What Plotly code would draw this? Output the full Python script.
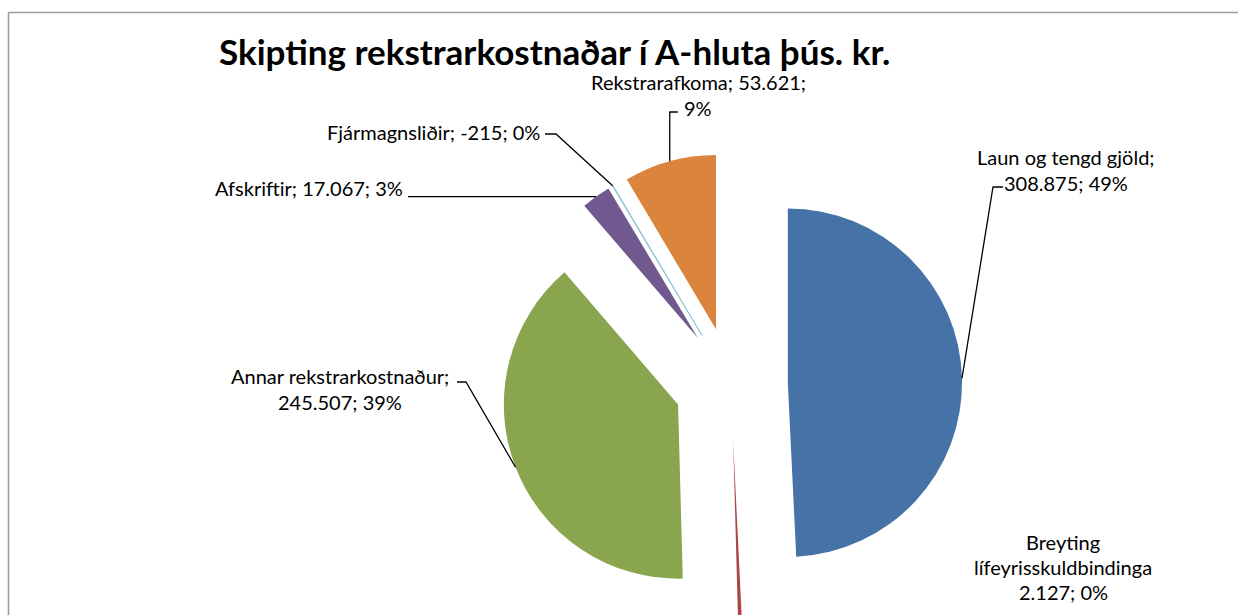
import math
import plotly.graph_objects as go

# ---------------- data ----------------
labels = ["Laun og tengd gjöld", "Breyting lífeyrisskuldbindinga", "Annar rekstrarkostnaður",
          "Afskriftir", "Fjármagnsliðir", "Rekstrarafkoma"]
values = [308875, 2127, 245507, 17067, -215, 53621]
colors = ["#4572A7", "#AA4643", "#89A54E", "#71588F", "#8FC3D6", "#DB843D"]
title_text = "Skipting rekstrarkostnaðar í A-hluta þús. kr."

# ---------------- layout constants ----------------
W, H = 1238, 615
PULL = 0.326
DOM_X = [0.3482, 0.8328]
DOM_Y = [0.0, 0.7512]
FONT = "Lato"
LABEL_SIZE = 20
TITLE_SIZE = 35

abs_vals = [abs(v) for v in values]
total = sum(abs_vals)
pcts = [round(100 * v / total) for v in abs_vals]


def fmt(v):
    s = f"{abs(v):,}".replace(",", ".")
    return ("-" if v < 0 else "") + s


# pie geometry (mirrors plotly's own pie scaling)
box_w = W * (DOM_X[1] - DOM_X[0])
box_h = H * (DOM_Y[1] - DOM_Y[0])
R = min(box_w, box_h) / 2 / (1 + PULL)
CX = W * (DOM_X[0] + DOM_X[1]) / 2
CY = H * (1 - DOM_Y[0]) - box_h / 2

starts, mids = [], []
acc = 0.0
for v in abs_vals:
    a0 = 360 * acc / total
    a1 = 360 * (acc + v) / total
    starts.append(a0)
    mids.append((a0 + a1) / 2)
    acc += v


def d(theta):
    t = math.radians(theta)
    return math.sin(t), -math.cos(t)


def arc_point(i, theta=None):
    if theta is None:
        theta = mids[i]
    ex, ey = d(mids[i])
    ox, oy = d(theta)
    return (CX + PULL * R * ex + R * ox, CY + PULL * R * ey + R * oy)


def px(x):
    return x / W


def py(y):
    return 1 - y / H


fig = go.Figure(go.Pie(
    labels=labels,
    values=abs_vals,
    sort=False,
    direction="clockwise",
    rotation=0,
    pull=[PULL] * len(values),
    marker=dict(colors=colors,
                line=dict(color=colors, width=[0, 0, 0, 0, 1.2, 0])),
    textinfo="none",
    hoverinfo="none",
    showlegend=False,
    domain=dict(x=DOM_X, y=DOM_Y),
))

# ---------------- labels ----------------
lab_lines = [
    [f"{labels[0]};", f"{fmt(values[0])}; {pcts[0]}%"],
    ["Breyting", "lífeyrisskuldbindinga", f"{fmt(values[1])}; {pcts[1]}%"],
    [f"{labels[2]};", f"{fmt(values[2])}; {pcts[2]}%"],
    [f"{labels[3]}; {fmt(values[3])}; {pcts[3]}%"],
    [f"{labels[4]}; {fmt(values[4])}; {pcts[4]}%"],
    [f"{labels[5]}; {fmt(values[5])};", f"{pcts[5]}%"],
]
lab_pos = [  # (x px, first line y px, line step, xanchor)
    (1066, 157, 26, "center"),
    (1063, 542, 25, "center"),
    (340, 376, 26, "center"),
    (405, 188, 26, "right"),
    (542, 132, 26, "right"),
    (698, 82, 26, "center"),
]

annotations = []
for lines, (x, y0, step, xa) in zip(lab_lines, lab_pos):
    for k, t in enumerate(lines):
        annotations.append(dict(
            x=px(x), y=py(y0 + k * step), xref="paper", yref="paper",
            text=t, showarrow=False, xanchor=xa, yanchor="middle",
            font=dict(family=FONT, size=LABEL_SIZE, color="#000000"),
        ))

annotations.append(dict(
    x=px(217), y=py(51), xref="paper", yref="paper",
    text=f"<b>{title_text}</b>", showarrow=False, xanchor="left", yanchor="middle",
    font=dict(family=FONT, size=TITLE_SIZE, color="#000000"),
))

# ---------------- leader lines ----------------
leaders = []
e = arc_point(0)
leaders.append([(1003, 187), (993, 187), e])
e = arc_point(2)
leaders.append([(457, 382), (466, 382), e])
e = arc_point(3)
leaders.append([(408, e[1]), e])
e = arc_point(4)
leaders.append([(545, 134), (556, 134), e])
e = arc_point(5)
leaders.append([(e[0] + 8, 112), (e[0], 112), e])

shapes = []
for pts in leaders:
    path = "M " + " L ".join(f"{px(a):.5f},{py(b):.5f}" for a, b in pts)
    shapes.append(dict(type="path", xref="paper", yref="paper", path=path,
                       line=dict(color="#000000", width=1.3)))

# chart-area border (top and left edges visible)
shapes.append(dict(type="line", xref="paper", yref="paper",
                   x0=px(8.5), y0=py(12.5), x1=px(W + 20), y1=py(12.5),
                   line=dict(color="#9C9C9C", width=1.6)))
shapes.append(dict(type="line", xref="paper", yref="paper",
                   x0=px(8.5), y0=py(12.5), x1=px(8.5), y1=py(H + 20),
                   line=dict(color="#9C9C9C", width=1.6)))

fig.update_layout(
    width=W, height=H,
    margin=dict(l=0, r=0, t=0, b=0),
    paper_bgcolor="#FFFFFF",
    plot_bgcolor="#FFFFFF",
    annotations=annotations,
    shapes=shapes,
)

fig.write_html(
    "out.html",
    config={"displayModeBar": False},
    post_script="document.body.style.margin='0';document.body.style.overflow='hidden';",
)
